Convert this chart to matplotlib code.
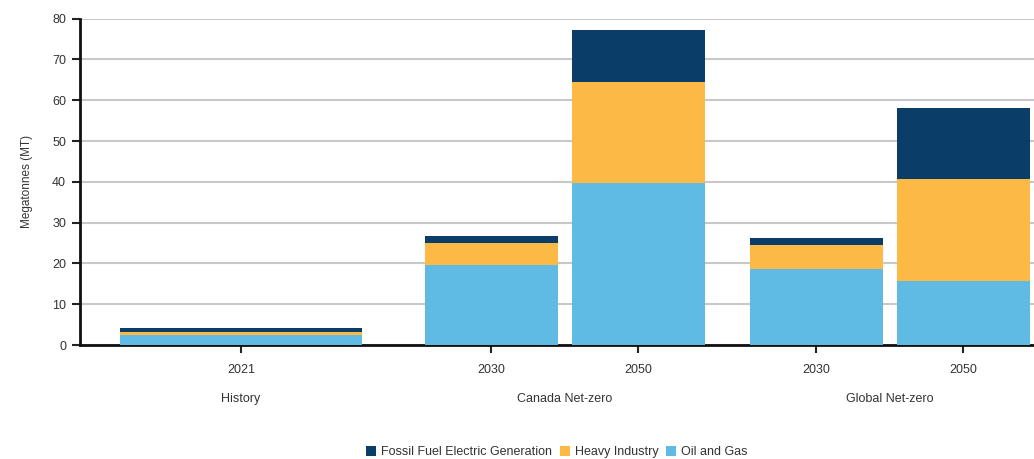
import numpy as np
import matplotlib.pyplot as plt

plt.rcParams['font.family'] = ['Liberation Sans', 'DejaVu Sans']

# data (megatonnes)
groups = ['History', 'Canada Net-zero', 'Global Net-zero']
years = ['2021', '2030', '2050', '2030', '2050']
oil_gas = [2.5, 19.6, 39.7, 18.7, 15.8]
heavy_industry = [0.7, 5.3, 24.7, 5.9, 24.9]
fossil_elec = [0.9, 1.8, 12.7, 1.6, 17.5]

c_fossil = '#0a3d68'
c_heavy = '#fdb946'
c_oil = '#60bbe4'

# bar layout (one unit = one bar slot)
xpos = np.array([0.0, 1.70, 2.70, 3.91, 4.91])
widths = np.array([1.646, 0.905, 0.905, 0.905, 0.905])
group_x = [0.0, 2.20, 4.41]

fig = plt.figure(figsize=(10.34, 4.59), dpi=100)
ax = fig.add_axes([80 / 1034, 1 - 345 / 459, 1 - 80 / 1034, (345 - 18.6) / 459])

oil = np.array(oil_gas)
heavy = np.array(heavy_industry)
foss = np.array(fossil_elec)
ax.bar(xpos, oil, width=widths, color=c_oil, label='Oil and Gas', zorder=3)
ax.bar(xpos, heavy, width=widths, bottom=oil, color=c_heavy, label='Heavy Industry', zorder=3)
ax.bar(xpos, foss, width=widths, bottom=oil + heavy, color=c_fossil,
       label='Fossil Fuel Electric Generation', zorder=3)

ax.set_xlim(-1.095, 5.39)
ax.set_ylim(0, 80)
ax.set_yticks(range(0, 81, 10))
ax.yaxis.grid(True, color='#c8c8c8', linewidth=1.5, zorder=0)
ax.set_axisbelow(True)
ax.tick_params(axis='y', length=6, width=1.5, color='#222222', labelsize=9,
               labelcolor='#333333', pad=4)
ax.set_xticks(xpos)
ax.set_xticklabels(years)
ax.tick_params(axis='x', length=6, width=1.5, color='#222222', labelsize=9,
               labelcolor='#333333', pad=8)

for s in ['top', 'right']:
    ax.spines[s].set_visible(False)
ax.spines['left'].set_linewidth(2)
ax.spines['bottom'].set_linewidth(2)
ax.spines['left'].set_color('#111111')
ax.spines['bottom'].set_color('#111111')

ax.set_ylabel('Megatonnes (MT)', fontsize=8.5, color='#333333', labelpad=14)

for gx, g in zip(group_x, groups):
    ax.text(gx, -13.2, g, ha='center', va='center', fontsize=9, color='#333333')

h, l = ax.get_legend_handles_labels()
order = [2, 1, 0]
fig.legend([h[i] for i in order], [l[i] for i in order], loc='center',
           bbox_to_anchor=(557 / 1034, 1 - 452 / 459), ncol=3, frameon=False,
           fontsize=9, handlelength=0.8, handleheight=0.8, handletextpad=0.4,
           columnspacing=0.6, labelcolor='#333333')

fig.savefig('out.png', dpi=100)
